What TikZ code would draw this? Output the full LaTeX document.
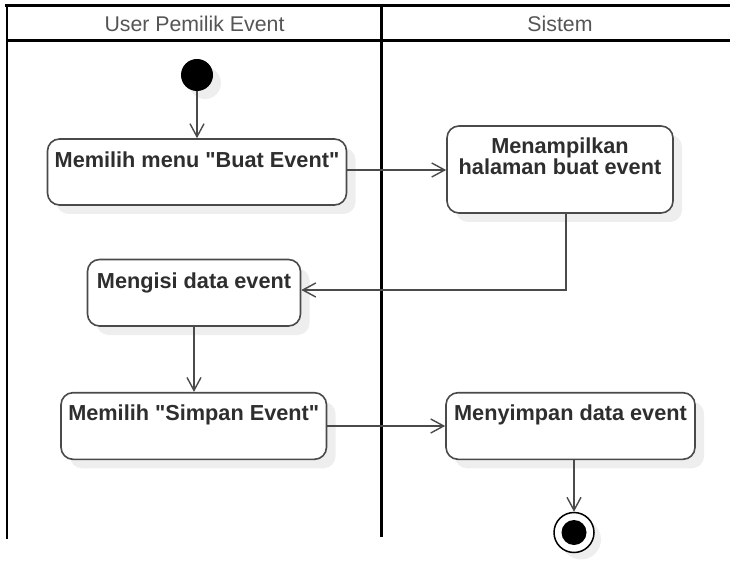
\documentclass[tikz,border=0pt]{standalone}
\usepackage{fontspec}
\setmainfont{Liberation Sans}
\usetikzlibrary{arrows.meta,shadows}
\definecolor{boxline}{HTML}{4A4A4A}
\definecolor{txt}{HTML}{2E2E2E}
\definecolor{hdr}{HTML}{555555}
\definecolor{shd}{HTML}{EEEEEE}
\tikzset{
  act/.style={draw=boxline, line width=1.6pt, rounded corners=12pt, fill=white,
    inner sep=0pt, drop shadow={shadow xshift=9pt, shadow yshift=-9pt, fill=shd, opacity=1}},
  acttext/.style={font=\fontsize{21.7}{21}\selectfont\bfseries, text=txt, inner sep=0pt, align=center},
  lane/.style={line width=2.6pt, black},
  hdrtext/.style={font=\fontsize{21.3}{24}\selectfont, text=hdr, inner sep=0pt},
  flow/.style={draw=boxline, line width=1.5pt, -{Straight Barb[length=13pt,width=14pt,line width=1.4pt]}},
}
\begin{document}
\begin{tikzpicture}[x=1pt,y=-1pt]
\useasboundingbox (0,0) rectangle (730,561);
% swimlanes
\draw[lane] (5,5.5) -- (730,5.5);
\draw[lane] (7,40.5) -- (730,40.5);
\draw[lane] (7,4.5) -- (7,539);
\draw[lane] (381.5,4.5) -- (381.5,537);
\node[hdrtext] (h1) at (194.5,23.5) {User Pemilik Event};
\node[hdrtext] (h2) at (560,23.5) {Sistem};
% initial node
\node[circle, fill=black, minimum size=32pt, inner sep=0pt,
  drop shadow={shadow xshift=8pt, shadow yshift=-8pt, fill=shd, opacity=1}] (init) at (197,75) {};
% activities
\node[act, minimum width=299pt, minimum height=66pt,
  label={[acttext, anchor=north, yshift=-13pt]north:Memilih menu \textquotedbl Buat Event\textquotedbl}] (b1) at (197,172) {};
\node[act, minimum width=226pt, minimum height=87pt,
  label={[acttext, anchor=north, yshift=-12.5pt]north:Menampilkan\\halaman buat event}] (b2) at (560,169.5) {};
\node[act, minimum width=213pt, minimum height=66.5pt,
  label={[acttext, anchor=north, yshift=-14pt]north:Mengisi data event}] (b3) at (194,292.75) {};
\node[act, minimum width=265.5pt, minimum height=66.6pt,
  label={[acttext, anchor=north, yshift=-12.5pt]north:Memilih \textquotedbl Simpan Event\textquotedbl}] (b4) at (193.75,426) {};
\node[act, minimum width=249pt, minimum height=66.6pt,
  label={[acttext, anchor=north, yshift=-13pt]north:Menyimpan data event}] (b5) at (570.5,426) {};
% final node
\node[circle, draw=black, line width=1.5pt, fill=white, minimum size=40pt, inner sep=0pt,
  drop shadow={shadow xshift=7pt, shadow yshift=-7pt, fill=shd, opacity=1}] (fin) at (574,532.5) {};
\node[circle, fill=black, minimum size=25pt, inner sep=0pt] (finin) at (fin.center) {};
% flows
\coordinate (c1) at (566,290);
\draw[flow] (init.south) -- (b1.north -| init.south);
\draw[flow] (b1.east |- 0,170) -- (b2.west |- 0,170);
\draw[flow] (b2.south -| c1) -- (c1) -- (b3.east |- c1);
\draw[flow] (b3.south) -- (b4.north -| b3.south);
\draw[flow] (b4.east) -- (b5.west);
\draw[flow] (b5.south -| fin.north) -- (fin.north);
\end{tikzpicture}
\end{document}
